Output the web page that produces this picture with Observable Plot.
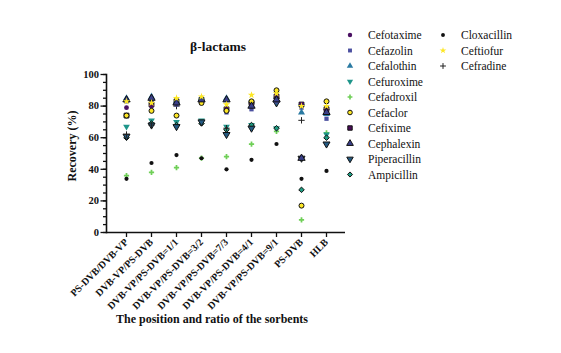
<!DOCTYPE html>
<html><head><meta charset="utf-8">
<script src="https://cdn.jsdelivr.net/npm/d3@7"></script>
<script src="https://cdn.jsdelivr.net/npm/@observablehq/plot@0.6"></script>
<style>
body{margin:0;background:#fff;}
#wrap{position:relative;width:561px;height:353px;font-family:"Liberation Serif","Times New Roman",serif;color:#111;}
#title{position:absolute;left:0;width:436px;top:39px;text-align:center;font-weight:bold;font-size:13.5px;}
#xtitle{position:absolute;left:0;width:424px;top:312px;text-align:center;font-weight:bold;font-size:12px;}
#ytitle{position:absolute;left:72px;top:146px;transform:translate(-50%,-50%) rotate(-90deg);font-weight:bold;font-size:12px;white-space:nowrap;}
#legend{position:absolute;left:0;top:0;pointer-events:none;}
</style></head>
<body>
<div id="wrap">
  <div id="chart"></div>
  <div id="title">β-lactams</div>
  <div id="ytitle">Recovery (%)</div>
  <div id="xtitle">The position and ratio of the sorbents</div>
</div>
<script>
const categories = ["PS-DVB/DVB-VP","DVB-VP/PS-DVB","DVB-VP/PS-DVB=1/1","DVB-VP/PS-DVB=3/2","DVB-VP/PS-DVB=7/3","DVB-VP/PS-DVB=4/1","DVB-VP/PS-DVB=9/1","PS-DVB","HLB"];
const compounds = ["Cefotaxime","Cefazolin","Cefalothin","Cefuroxime","Cefadroxil","Cefaclor","Cefixime","Cephalexin","Piperacillin","Ampicillin","Cloxacillin","Ceftiofur","Cefradine"];
const yTicks = [0,20,40,60,80,100];

const Cefotaxime   = [79, 80, 82, 83, 78, 81, 87, 81, 77];
const Cefazolin    = [83, 83, 81, 82, 76, 78, 83, 79, 72];
const Cefalothin   = [85, 86, 83, 85, 85, 80, 84, 76, 75];
const Cefuroxime   = [67, 71, 70, 71, 67, 68, 66, 80, 62];
const Cefadroxil   = [36, 38, 41, 47, 48, 56, 64, 8, 63];
const Cefaclor     = [74, 77, 74, 82, 77, 83, 90, 17, 83];
const Cefixime     = [74, 81, 83, 84, 78, 82, 86, 81, 78];
const Cephalexin   = [84, 85, 82, 84, 84, 80, 84, 47, 76];
const Piperacillin = [61, 68, 67, 70, 62, 66, 82, 47, 56];
const Ampicillin   = [60, 69, 68, 69, 65, 68, 66, 27, 60];
const Cloxacillin  = [34, 44, 49, 47, 40, 46, 56, 34, 39];
const Ceftiofur    = [83, 82, 85, 86, 81, 87, 88, 80, 80];
const Cefradine    = [62, 68, 80, 83, 66, 82, 85, 71, 78];

const seriesList = [Cefotaxime,Cefazolin,Cefalothin,Cefuroxime,Cefadroxil,Cefaclor,Cefixime,Cephalexin,Piperacillin,Ampicillin,Cloxacillin,Ceftiofur,Cefradine];

const triDown = {draw(ctx, size){
  d3.symbolTriangle.draw({moveTo:(x,y)=>ctx.moveTo(x,-y), lineTo:(x,y)=>ctx.lineTo(x,-y), closePath:()=>ctx.closePath()}, size);
}};

const styles = {
  Cefotaxime:   {symbol:d3.symbolCircle,   fill:"#4a1062", stroke:"none", r:2.4},
  Cefazolin:    {symbol:d3.symbolSquare,   fill:"#4b50a0", stroke:"none", r:2.4},
  Cefalothin:   {symbol:d3.symbolTriangle, fill:"#2a7aa2", stroke:"none", r:2.6},
  Cefuroxime:   {symbol:triDown,           fill:"#1e958a", stroke:"none", r:2.5},
  Cefadroxil:   {symbol:d3.symbolCross,    fill:"#6fcf57", stroke:"none", r:2.2},
  Cefaclor:     {symbol:d3.symbolCircle,   fill:"#fde725", stroke:"#111", r:2.5},
  Cefixime:     {symbol:d3.symbolSquare,   fill:"#4a0c58", stroke:"#111", r:2.7},
  Cephalexin:   {symbol:d3.symbolTriangle, fill:"#3a3f8a", stroke:"#111", r:2.7},
  Piperacillin: {symbol:triDown,           fill:"#245a82", stroke:"#111", r:2.6},
  Ampicillin:   {symbol:d3.symbolDiamond2 || d3.symbolDiamond, fill:"#1f9a80", stroke:"#111", r:2.5},
  Cloxacillin:  {symbol:d3.symbolCircle,   fill:"#111",    stroke:"none", r:2.1},
  Ceftiofur:    {symbol:d3.symbolStar,     fill:"#fde725", stroke:"none", r:2.3},
  Cefradine:    {symbol:d3.symbolPlus,     fill:"none",    stroke:"#222", r:2.2}
};

const table = [];
compounds.forEach((name, k) => seriesList[k].forEach((v, i) => table.push({category: categories[i], compound: name, value: v})));

const drawOrder = ["Cefadroxil","Cloxacillin","Cefuroxime","Ampicillin","Piperacillin","Cefradine","Cefazolin","Cefixime","Cefotaxime","Cefaclor","Cefalothin","Cephalexin","Ceftiofur"];

const dotMarks = drawOrder.map(name => {
  const s = styles[name];
  return Plot.dot(table.filter(d => d.compound === name), {
    x: "category", y: "value", symbol: () => s.symbol, r: s.r,
    fill: s.fill, stroke: s.stroke, strokeWidth: s.stroke === "none" ? 0 : 1
  });
});

const plot = Plot.plot({
  width: 561, height: 353,
  marginLeft: 106, marginRight: 216, marginTop: 74, marginBottom: 121,
  style: {fontFamily: '"Liberation Serif","Times New Roman",serif', fontSize: "10px", fontWeight: "bold", color: "#111", background: "#fff"},
  symbol: {type: "identity"},
  x: {type: "point", domain: categories, padding: 0.7, label: null},
  y: {domain: [0, 100], label: null},
  marks: [
    Plot.axisY({ticks: d3.range(0, 101, 5), tickSize: 3, tickFormat: () => "", strokeWidth: 1.3}),
    Plot.axisY({ticks: yTicks, tickSize: 5.5, tickPadding: 2, strokeWidth: 1.3, fontWeight: "bold", fontSize: 10.5}),
    Plot.axisX({tickSize: 5, tickRotate: -45, tickPadding: 3, strokeWidth: 1.3, fontWeight: "bold", fontSize: 10}),
    Plot.ruleY([0], {strokeWidth: 1.6}),
    Plot.frame({anchor: "left", strokeWidth: 1.6}),
    ...dotMarks
  ]
});
document.getElementById("chart").appendChild(plot);

// legend
const legend = d3.select("#wrap").append("svg").attr("id","legend").attr("width",561).attr("height",353);
const legendCols = [compounds.slice(0,10), compounds.slice(10)];
const colX = [350, 443];
legendCols.forEach((col, c) => col.forEach((name, i) => {
  const s = styles[name];
  const y = 35 + i * 15.5;
  legend.append("path")
    .attr("transform", `translate(${colX[c]},${y})`)
    .attr("d", d3.symbol().type(s.symbol).size(Math.PI * s.r * s.r * 0.85)())
    .attr("fill", s.fill).attr("stroke", s.stroke).attr("stroke-width", s.stroke === "none" ? 0 : 1);
  legend.append("text")
    .attr("x", colX[c] + 18).attr("y", y).attr("dy", "0.35em")
    .attr("font-family", '"Liberation Serif","Times New Roman",serif')
    .attr("font-size", 11.5).attr("fill", "#111").text(name);
}));
</script>
</body></html>
